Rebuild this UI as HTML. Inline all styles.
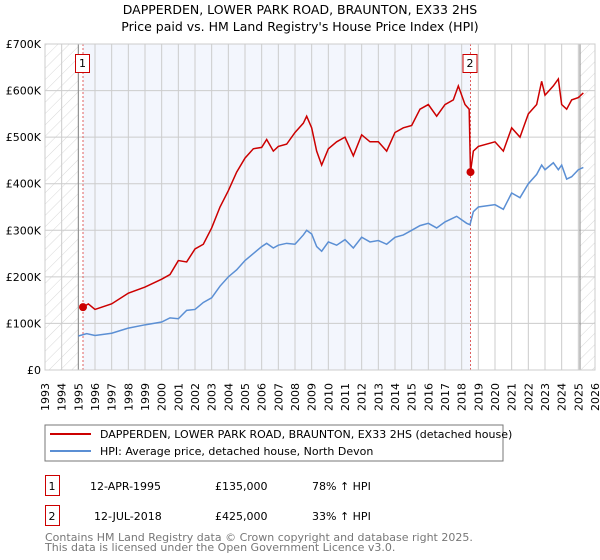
<!DOCTYPE html>
<html><head><meta charset="utf-8"><style>
body{margin:0;background:#fff;width:600px;height:560px;overflow:hidden;font-family:"DejaVu Sans","Liberation Sans",sans-serif}
svg{display:block}
</style></head><body>
<svg id="c" width="600" height="560" viewBox="0 0 600 560">
<defs><pattern id="hatch" width="8" height="8" patternUnits="userSpaceOnUse" patternTransform="rotate(45)"><line x1="0" y1="0" x2="0" y2="8" stroke="#d8d8d8" stroke-width="1"/></pattern></defs>
<text x="300" y="14" text-anchor="middle" font-size="12.5" fill="#000">DAPPERDEN, LOWER PARK ROAD, BRAUNTON, EX33 2HS</text>
<text x="300" y="31" text-anchor="middle" font-size="12.5" fill="#000">Price paid vs. HM Land Registry's House Price Index (HPI)</text>
<g id="plot"></g>
<rect x="45" y="425" width="458" height="36" fill="#fff" stroke="#777"/>
<line x1="50" y1="434" x2="91" y2="434" stroke="#cc0000" stroke-width="2"/>
<text x="100" y="438" font-size="11">DAPPERDEN, LOWER PARK ROAD, BRAUNTON, EX33 2HS (detached house)</text>
<line x1="50" y1="451" x2="91" y2="451" stroke="#5b8fd4" stroke-width="2"/>
<text x="100" y="455" font-size="11">HPI: Average price, detached house, North Devon</text>
<g font-size="11">
<rect x="45.5" y="475.5" width="14" height="20" fill="none" stroke="#cc0000"/><text x="52" y="490" text-anchor="middle">1</text>
<text x="90" y="490">12-APR-1995</text><text x="215" y="490">£135,000</text><text x="312" y="490">78% ↑ HPI</text>
<rect x="45.5" y="505.5" width="14" height="20" fill="none" stroke="#cc0000"/><text x="52" y="520" text-anchor="middle">2</text>
<text x="94" y="520">12-JUL-2018</text><text x="215" y="520">£425,000</text><text x="312" y="520">33% ↑ HPI</text>
</g>
<text x="45" y="541" font-size="11" fill="#777">Contains HM Land Registry data © Crown copyright and database right 2025.</text>
<text x="45" y="551" font-size="11" fill="#777">This data is licensed under the Open Government Licence v3.0.</text>
</svg>
<script>
const hpiYears=[1995.0,1995.5,1996,1997,1998,1999,2000,2000.5,2001,2001.5,2002,2002.5,2003,2003.5,2004,2004.5,2005,2005.5,2006,2006.3,2006.7,2007,2007.5,2008,2008.5,2008.7,2009,2009.3,2009.6,2010,2010.5,2011,2011.5,2012,2012.5,2013,2013.5,2014,2014.5,2015,2015.5,2016,2016.5,2017,2017.7,2018.3,2018.5,2018.7,2019,2020,2020.5,2021,2021.5,2022,2022.5,2022.8,2023,2023.5,2023.8,2024,2024.3,2024.6,2025,2025.3];
const hpiValues=[73,78,74,79,90,97,103,112,110,128,130,145,155,180,200,215,235,250,265,272,262,268,272,270,290,300,292,265,255,275,268,280,262,285,275,278,270,285,290,300,310,315,305,318,330,315,312,340,350,355,345,380,370,400,420,440,430,445,430,440,410,415,430,435];
const priceYears=[1995.28,1995.6,1996,1997,1998,1999,2000,2000.5,2001,2001.5,2002,2002.5,2003,2003.5,2004,2004.5,2005,2005.5,2006,2006.3,2006.7,2007,2007.5,2008,2008.5,2008.7,2009,2009.3,2009.6,2010,2010.5,2011,2011.5,2012,2012.5,2013,2013.5,2014,2014.5,2015,2015.5,2016,2016.5,2017,2017.5,2017.8,2018.2,2018.45,2018.53,2018.7,2019,2020,2020.5,2021,2021.5,2022,2022.5,2022.8,2023,2023.5,2023.8,2024,2024.3,2024.6,2025,2025.3];
const priceValues=[135,142,130,142,165,178,195,205,235,232,260,270,305,350,385,425,455,475,478,495,470,480,485,510,530,545,520,470,440,475,490,500,460,505,490,490,470,510,520,525,560,570,545,570,580,610,570,560,425,470,480,490,470,520,500,550,570,620,590,610,625,570,560,580,585,595];
const saleYears=[1995.28,2018.53];
const saleValues=[135,425];
const yTicks=[0,100,200,300,400,500,600,700];
const yLabels=["£0","£100K","£200K","£300K","£400K","£500K","£600K","£700K"];
const x0=45,x1=595,y0=370,y1=44,yr0=1993,yr1=2026;
const X=y=>x0+(y-yr0)/(yr1-yr0)*(x1-x0);
const Y=v=>y0-v/700*(y0-y1);
const NS="http://www.w3.org/2000/svg";
const g=document.getElementById('plot');
function mk(t,a,p){const e=document.createElementNS(NS,t);for(const k in a)e.setAttribute(k,a[k]);(p||g).appendChild(e);return e;}
let e;
e=mk('rect',{x:x0,y:y1,width:x1-x0,height:y0-y1,fill:'#fff'});


e=mk('rect',{x:X(1995.28),y:y1,width:X(2018.53)-X(1995.28),height:y0-y1,fill:'#f3f6fd'});


e=mk('rect',{x:x0,y:y1,width:X(1995)-x0,height:y0-y1,fill:'url(#hatch)'});


e=mk('rect',{x:X(2025.1),y:y1,width:x1-X(2025.1),height:y0-y1,fill:'url(#hatch)'});


for(let yr=yr0;yr<=yr1;yr++){
 e=mk('line',{x1:X(yr),x2:X(yr),y1:y1,y2:y0,stroke:'#ccc','stroke-width':1});
 
 
 const tx=X(yr)+4,ty=383;
 e=mk('text',{x:tx,y:ty,'font-size':11,'text-anchor':'end',transform:`rotate(-90 ${tx} ${ty})`});
 e.textContent=yr;
 
 
}
yTicks.forEach((v,i)=>{
 e=mk('line',{x1:x0,x2:x1,y1:Y(v),y2:Y(v),stroke:'#ccc','stroke-width':1});
 
 
 e=mk('text',{x:x0-4,y:Y(v)+4,'font-size':11,'text-anchor':'end'});
 e.textContent=yLabels[i];
 
 
});
e=mk('line',{x1:X(1995),x2:X(1995),y1:y1,y2:y0,stroke:'#888','stroke-width':1});


e=mk('line',{x1:X(2025.1),x2:X(2025.1),y1:y1,y2:y0,stroke:'#888','stroke-width':1});


saleYears.forEach((s,i)=>{
 e=mk('line',{x1:X(s),x2:X(s),y1:y1,y2:y0,stroke:'#e06060','stroke-width':1,'stroke-dasharray':'2,2'});
 
 
});
e=mk('polyline',{points:hpiYears.map((y,i)=>X(y)+','+Y(hpiValues[i])).join(' '),fill:'none',stroke:'#5b8fd4','stroke-width':1.5});


e=mk('polyline',{points:priceYears.map((y,i)=>X(y)+','+Y(priceValues[i])).join(' '),fill:'none',stroke:'#cc0000','stroke-width':1.5});


saleYears.forEach((s,i)=>{
 e=mk('circle',{cx:X(s),cy:Y(saleValues[i]),r:4,fill:'#cc0000'});
 
 
 const bx=X(s)-8;
 e=mk('rect',{x:bx+0.5,y:54.5,width:14,height:18,fill:'#fff',stroke:'#cc0000'});
 
 
 e=mk('text',{x:bx+7.5,y:67,'font-size':11,'text-anchor':'middle'});
 e.textContent=String(i+1);
 
 
});
e=mk('rect',{x:x0,y:y1,width:x1-x0,height:y0-y1,fill:'none',stroke:'#ccc'});


</script>
</body></html>
